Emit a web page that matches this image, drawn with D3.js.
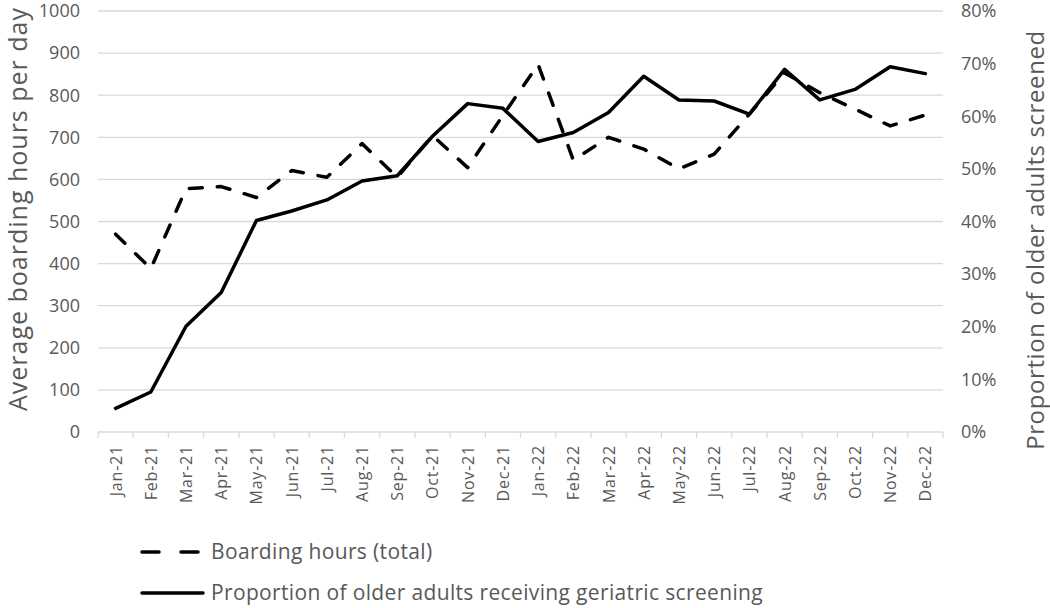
<!DOCTYPE html>
<html>
<head>
<meta charset="utf-8">
<script src="https://cdn.jsdelivr.net/npm/d3@7"></script>
<style>
  body { margin: 0; background: #fff; }
  text { font-family: "Open Sans", "Noto Sans", sans-serif; }
</style>
</head>
<body>
<div id="chart"></div>
<script>
const months = ['Jan-21', 'Feb-21', 'Mar-21', 'Apr-21', 'May-21', 'Jun-21', 'Jul-21', 'Aug-21',
  'Sep-21', 'Oct-21', 'Nov-21', 'Dec-21', 'Jan-22', 'Feb-22', 'Mar-22', 'Apr-22', 'May-22',
  'Jun-22', 'Jul-22', 'Aug-22', 'Sep-22', 'Oct-22', 'Nov-22', 'Dec-22'];

// average boarding hours per day (left axis)
const boardingHours = [470, 388, 578, 583, 557, 621, 605, 685, 605, 704, 628, 752,
  873, 646, 700, 672, 625, 660, 755, 853, 806, 767, 727, 753];

// proportion screened (right axis)
const screened = [0.045, 0.076, 0.201, 0.265, 0.402, 0.42, 0.441, 0.477, 0.487, 0.562, 0.624, 0.615,
  0.552, 0.569, 0.607, 0.676, 0.631, 0.629, 0.604, 0.689, 0.631, 0.651, 0.694, 0.681];

const leftTicks = [0, 100, 200, 300, 400, 500, 600, 700, 800, 900, 1000];
const rightTicks = [0, 0.1, 0.2, 0.3, 0.4, 0.5, 0.6, 0.7, 0.8];

const seriesNames = ['Boarding hours (total)', 'Proportion of older adults receiving geriatric screening'];

const width = 1050;
const height = 608;
const plot = { left: 98, right: 943, top: 11, bottom: 432 };

const svg = d3.select('#chart')
  .append('svg')
  .attr('width', width)
  .attr('height', height);

const x = d3.scaleBand()
  .domain(months)
  .range([plot.left, plot.right]);

const yLeft = d3.scaleLinear()
  .domain([0, 1000])
  .range([plot.bottom, plot.top]);

const yRight = d3.scaleLinear()
  .domain([0, 0.8])
  .range([plot.bottom, plot.top]);

const tickColor = '#595959';
const gridColor = '#d9d9d9';

// gridlines
svg.append('g')
  .selectAll('line')
  .data(leftTicks.slice(1))
  .enter()
  .append('line')
  .attr('x1', plot.left)
  .attr('x2', plot.right)
  .attr('y1', (d) => yLeft(d))
  .attr('y2', (d) => yLeft(d))
  .attr('stroke', gridColor)
  .attr('stroke-width', 1.3);

// x axis line + ticks
const xAxis = svg.append('g')
  .attr('transform', `translate(0, ${plot.bottom})`);

xAxis.append('line')
  .attr('x1', plot.left)
  .attr('x2', plot.right)
  .attr('stroke', gridColor)
  .attr('stroke-width', 1.3);

xAxis.selectAll('.tk')
  .data(months.concat(['end']))
  .enter()
  .append('line')
  .attr('x1', (d, i) => plot.left + i * x.bandwidth())
  .attr('x2', (d, i) => plot.left + i * x.bandwidth())
  .attr('y1', 0)
  .attr('y2', 6)
  .attr('stroke', gridColor)
  .attr('stroke-width', 1.3);

xAxis.selectAll('text')
  .data(months)
  .enter()
  .append('text')
  .attr('transform', (d) => `translate(${x(d) + x.bandwidth() / 2 + 6}, 13) rotate(-90)`)
  .attr('text-anchor', 'end')
  .attr('fill', tickColor)
  .style('font-size', '16px')
  .style('letter-spacing', '0.8px')
  .text((d) => d);

// left ticks
svg.append('g')
  .selectAll('text')
  .data(leftTicks)
  .enter()
  .append('text')
  .attr('x', 80)
  .attr('y', (d) => yLeft(d))
  .attr('dy', '0.35em')
  .attr('text-anchor', 'end')
  .attr('fill', tickColor)
  .style('font-size', '18px')
  .text((d) => d);

// right ticks
svg.append('g')
  .selectAll('text')
  .data(rightTicks)
  .enter()
  .append('text')
  .attr('x', 961)
  .attr('y', (d) => yRight(d))
  .attr('dy', '0.35em')
  .attr('text-anchor', 'start')
  .attr('fill', tickColor)
  .style('font-size', '18px')
  .text((d) => d3.format('.0%')(d));

// axis titles
svg.append('text')
  .attr('transform', 'translate(27, 209) rotate(-90)')
  .attr('text-anchor', 'middle')
  .attr('fill', tickColor)
  .style('font-size', '25px')
  .style('letter-spacing', '1px')
  .text('Average boarding hours per day');

svg.append('text')
  .attr('transform', 'translate(1044, 240) rotate(-90)')
  .attr('text-anchor', 'middle')
  .attr('fill', tickColor)
  .style('font-size', '24px')
  .style('letter-spacing', '0.6px')
  .text('Proportion of older adults screened');

// lines
const cx = (i) => x(months[i]) + x.bandwidth() / 2;

const boardLine = d3.line()
  .x((d, i) => cx(i))
  .y((d) => yLeft(d));

const screenLine = d3.line()
  .x((d, i) => cx(i))
  .y((d) => yRight(d));

svg.append('path')
  .datum(screened)
  .attr('d', screenLine)
  .attr('fill', 'none')
  .attr('stroke', '#000')
  .attr('stroke-width', 3.5)
  .attr('stroke-linejoin', 'round')
  .attr('stroke-linecap', 'round');

svg.append('path')
  .datum(boardingHours)
  .attr('d', boardLine)
  .attr('fill', 'none')
  .attr('stroke', '#000')
  .attr('stroke-width', 3.5)
  .attr('stroke-dasharray', '13,15')
  .attr('stroke-linejoin', 'round')
  .attr('stroke-linecap', 'round');

// legend
const legend = svg.append('g');

legend.selectAll('line')
  .data(seriesNames)
  .enter()
  .append('line')
  .attr('x1', 142)
  .attr('x2', 203)
  .attr('y1', (d, i) => 552 + i * 41)
  .attr('y2', (d, i) => 552 + i * 41)
  .attr('stroke', '#000')
  .attr('stroke-width', 3.5)
  .attr('stroke-linecap', 'round')
  .attr('stroke-dasharray', (d, i) => (i === 0 ? '17,22' : null));

legend.selectAll('text')
  .data(seriesNames)
  .enter()
  .append('text')
  .attr('x', 211)
  .attr('y', (d, i) => 552 + i * 41)
  .attr('dy', '0.35em')
  .attr('fill', tickColor)
  .style('font-size', '21px')
  .style('letter-spacing', '0.35px')
  .text((d) => d);
</script>
</body>
</html>
